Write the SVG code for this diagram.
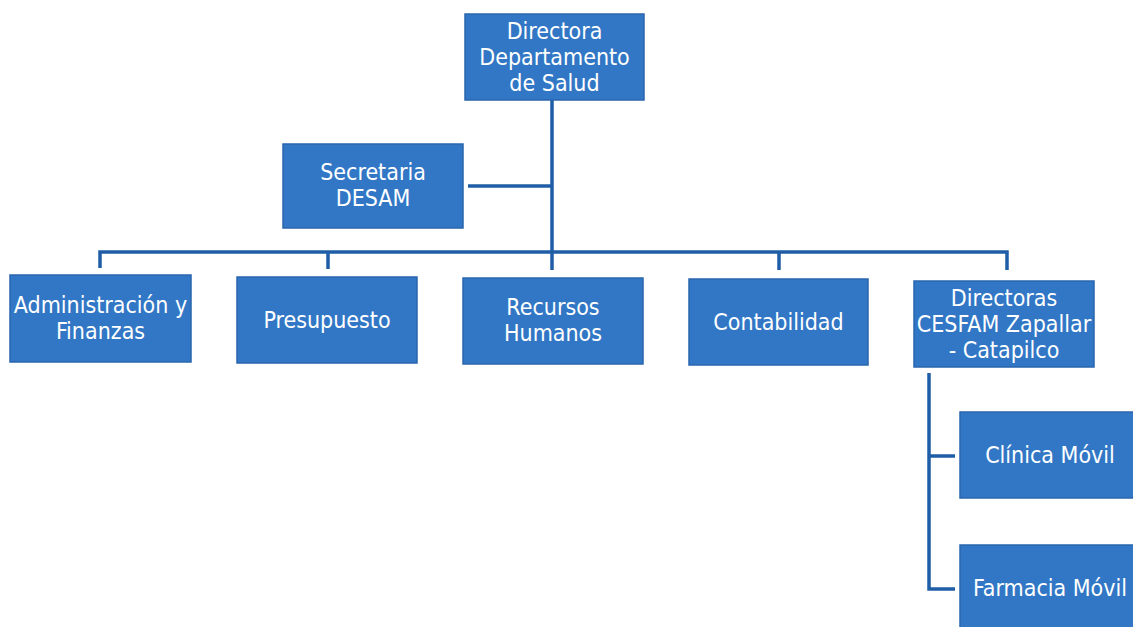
<svg xmlns="http://www.w3.org/2000/svg" width="1133" height="627" viewBox="0 0 1133 627">
<style>
.box{fill:#3177c5;stroke:#2a66ad;stroke-width:1.5}
.t{font-family:"DejaVu Sans Condensed","DejaVu Sans",sans-serif;font-size:23px;fill:#ffffff;text-anchor:middle}
.c{fill:none;stroke:#1f5ea6;stroke-width:3.5}
</style>
<rect width="1133" height="627" fill="#ffffff"/>
<g id="connectors">
<path class="c" d="M552 100 V252"/>
<path class="c" d="M468 186 H552"/>
<path class="c" d="M100 268 V252 H1007 V270"/>
<path class="c" d="M328 252 V269"/>
<path class="c" d="M552 252 V270"/>
<path class="c" d="M779 252 V270"/>
<path class="c" d="M929 373 V589 H955"/>
<path class="c" d="M929 456 H955"/>
</g>
<g id="n-directora"><rect class="box" x="465" y="14" width="179" height="86"/>
<text class="t" x="554.5" y="39">Directora</text><text class="t" x="554.5" y="65">Departamento</text><text class="t" x="554.5" y="91">de Salud</text></g>
<g id="n-secretaria"><rect class="box" x="283" y="144" width="180" height="84"/>
<text class="t" x="373" y="180">Secretaria</text><text class="t" x="373" y="206">DESAM</text></g>
<g id="n-admin"><rect class="box" x="10" y="275" width="181" height="87"/>
<text class="t" x="100.5" y="313">Administración y</text><text class="t" x="100.5" y="339">Finanzas</text></g>
<g id="n-presupuesto"><rect class="box" x="237" y="277" width="180" height="86"/>
<text class="t" x="327" y="328">Presupuesto</text></g>
<g id="n-rrhh"><rect class="box" x="463" y="278" width="180" height="86"/>
<text class="t" x="553" y="315">Recursos</text><text class="t" x="553" y="341">Humanos</text></g>
<g id="n-contabilidad"><rect class="box" x="689" y="279" width="179" height="86"/>
<text class="t" x="778.5" y="330">Contabilidad</text></g>
<g id="n-directoras"><rect class="box" x="914" y="281" width="180" height="86"/>
<text class="t" x="1004" y="306">Directoras</text><text class="t" x="1004" y="332">CESFAM Zapallar</text><text class="t" x="1004" y="358">- Catapilco</text></g>
<g id="n-clinica"><rect class="box" x="960" y="412" width="180" height="86"/>
<text class="t" x="1050" y="463">Clínica Móvil</text></g>
<g id="n-farmacia"><rect class="box" x="960" y="545" width="180" height="90"/>
<text class="t" x="1050" y="596">Farmacia Móvil</text></g>
</svg>
